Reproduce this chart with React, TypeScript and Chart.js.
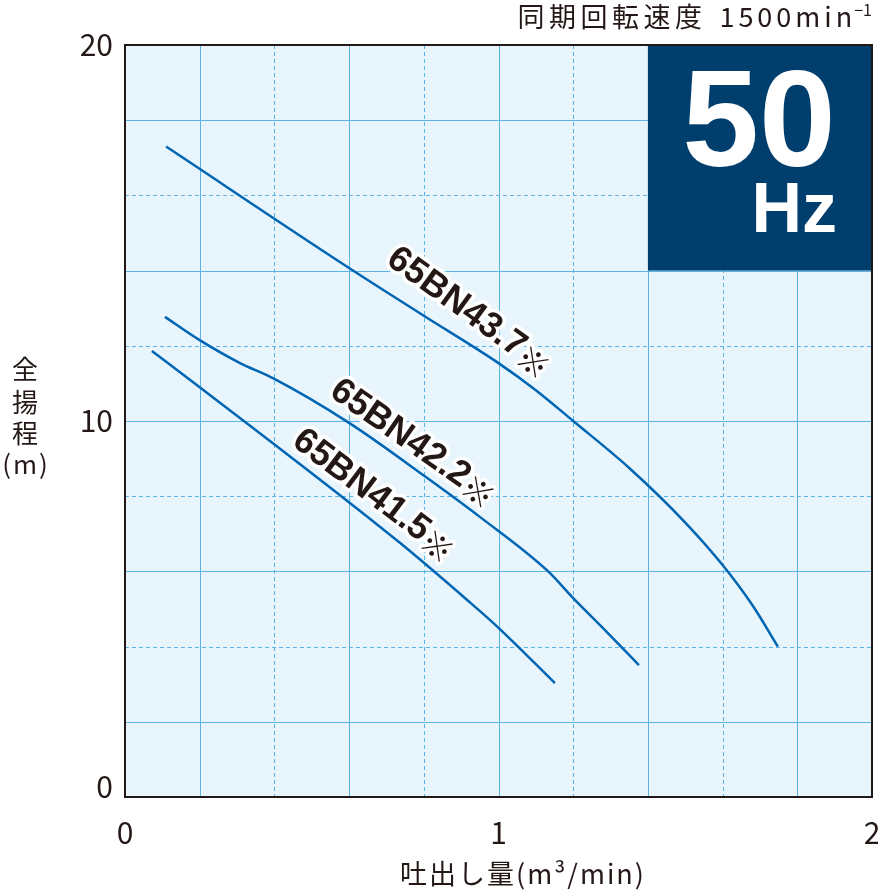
import React, { useEffect, useRef } from 'react';
import { Chart, registerables } from 'chart.js';

Chart.register(...registerables);

// ---- data ----
const flow437 = [0.11, 0.6, 0.8, 1.0, 1.1, 1.2, 1.35, 1.5, 1.6, 1.68, 1.748];
const head437 = [17.3, 14.07, 12.8, 11.54, 10.82, 10.0, 8.75, 7.3, 6.17, 5.1, 4.0];

const flow422 = [0.107, 0.2, 0.308, 0.396, 0.6, 0.8, 0.95, 1.133, 1.2, 1.285, 1.376];
const head422 = [12.77, 12.15, 11.54, 11.14, 9.95, 8.55, 7.45, 6.0, 5.29, 4.44, 3.51];

const flow415 = [0.072, 0.2, 0.396, 0.736, 0.916, 1.0, 1.151];
const head415 = [11.86, 10.9, 9.41, 6.76, 5.24, 4.5, 3.03];

const seriesNames = ['65BN43.7', '65BN42.2', '65BN41.5'];
const labelFlow = [0.922, 0.772, 0.667];
const labelHead = [12.9, 9.42, 8.03];
const labelAngle = [36, 35, 37];

const xTicks = [0, 1, 2];
const yTicks = [0, 10, 20];
const xGridSolid = [0.2, 0.6, 1.0, 1.4, 1.8];
const xGridDashed = [0.4, 0.8, 1.2, 1.6];
const yGridSolid = [2, 6, 10, 14, 18];
const yGridDashed = [4, 8, 12, 16];
const hzBoxFlow = [1.4, 2];
const hzBoxHead = [14, 20];

const titleJP = '同期回転速度';
const titleNum = '1500min';
const titleSup = '−1';
const xTitle = '吐出し量(m³/min)';
const yTitleLines = ['全', '揚', '程', '(m)'];
const hzBig = '50';
const hzSmall = 'Hz';

const LINE = '#0066b3';
const GRID = '#5ab4e6';
const TEXT = '#231815';
const JP = '"Noto Sans CJK JP", "Noto Sans", sans-serif';

const toPts = (xs: number[], ys: number[]) => xs.map((v, i) => ({ x: v, y: ys[i] }));

const decorPlugin = {
  id: 'decor',
  beforeDatasetsDraw(chart: any) {
    const { ctx, chartArea: a, scales } = chart;
    const sx = scales.x, sy = scales.y;
    ctx.save();
    ctx.fillStyle = '#e8f5fd';
    ctx.fillRect(a.left, a.top, a.right - a.left, a.bottom - a.top);
    ctx.strokeStyle = GRID;
    ctx.lineWidth = 1;
    const vline = (v: number, dash: number[]) => {
      const p = Math.round(sx.getPixelForValue(v)) + 0.5;
      ctx.setLineDash(dash);
      ctx.beginPath();
      ctx.moveTo(p, a.top);
      ctx.lineTo(p, a.bottom);
      ctx.stroke();
    };
    const hline = (v: number, dash: number[]) => {
      const p = Math.round(sy.getPixelForValue(v)) + 0.5;
      ctx.setLineDash(dash);
      ctx.beginPath();
      ctx.moveTo(a.left, p);
      ctx.lineTo(a.right, p);
      ctx.stroke();
    };
    xGridSolid.forEach((v) => vline(v, []));
    yGridSolid.forEach((v) => hline(v, []));
    xGridDashed.forEach((v) => vline(v, [4, 3]));
    yGridDashed.forEach((v) => hline(v, [4, 3]));
    ctx.setLineDash([]);
    const bx1 = sx.getPixelForValue(hzBoxFlow[0]);
    const bx2 = sx.getPixelForValue(hzBoxFlow[1]);
    const by1 = sy.getPixelForValue(hzBoxHead[1]);
    const by2 = sy.getPixelForValue(hzBoxHead[0]);
    ctx.fillStyle = '#003e6d';
    ctx.fillRect(bx1, by1, bx2 - bx1, by2 - by1);
    ctx.restore();
  },
  afterDatasetsDraw(chart: any) {
    const { ctx, chartArea: a, scales } = chart;
    const sx = scales.x, sy = scales.y;
    ctx.save();
    seriesNames.forEach((name, i) => {
      const px = sx.getPixelForValue(labelFlow[i]);
      const py = sy.getPixelForValue(labelHead[i]);
      ctx.save();
      ctx.translate(px, py);
      ctx.rotate((labelAngle[i] * Math.PI) / 180);
      const f1 = 'bold 36px "Liberation Sans", Arial, sans-serif';
      const f2 = `normal 32px ${JP}`;
      ctx.font = f1;
      const w1 = ctx.measureText(name).width;
      ctx.font = f2;
      const w2 = ctx.measureText('※').width;
      const x0 = -(w1 + w2) / 2;
      ctx.textBaseline = 'middle';
      ctx.textAlign = 'left';
      ctx.lineJoin = 'round';
      ctx.strokeStyle = '#ffffff';
      ctx.lineWidth = 7;
      ctx.font = f1;
      ctx.strokeText(name, x0, 0);
      ctx.font = f2;
      ctx.strokeText('※', x0 + w1, 3);
      ctx.fillStyle = TEXT;
      ctx.font = f1;
      ctx.fillText(name, x0, 0);
      ctx.font = f2;
      ctx.fillText('※', x0 + w1, 3);
      ctx.restore();
    });
    const bx1 = sx.getPixelForValue(hzBoxFlow[0]);
    const bx2 = sx.getPixelForValue(hzBoxFlow[1]);
    const by1 = sy.getPixelForValue(hzBoxHead[1]);
    ctx.fillStyle = '#ffffff';
    ctx.textBaseline = 'alphabetic';
    ctx.textAlign = 'center';
    ctx.font = 'bold 138px "Liberation Sans", Arial, sans-serif';
    ctx.fillText(hzBig, (bx1 + bx2) / 2 - 1, by1 + 121);
    ctx.textAlign = 'right';
    ctx.font = 'bold 70px "Liberation Sans", Arial, sans-serif';
    ctx.fillText(hzSmall, bx2 - 35, by1 + 187);
    ctx.strokeStyle = TEXT;
    ctx.lineWidth = 2;
    ctx.strokeRect(a.left, a.top, a.right - a.left, a.bottom - a.top);
    ctx.restore();
  },
  afterDraw(chart: any) {
    const { ctx, chartArea: a, scales } = chart;
    const sy = scales.y;
    ctx.save();
    ctx.fillStyle = TEXT;
    // y tick labels
    ctx.font = `normal 30px ${JP}`;
    ctx.textAlign = 'right';
    ctx.textBaseline = 'middle';
    yTicks.forEach((v) => {
      const p = sy.getPixelForValue(v);
      ctx.fillText(String(v), a.left - 12, v === yTicks[0] ? p - 10 : p);
    });
    // top title
    ctx.textBaseline = 'alphabetic';
    ctx.textAlign = 'right';
    ctx.font = `normal 16px ${JP}`;
    const supW = ctx.measureText(titleSup).width;
    ctx.fillText(titleSup, a.right, 16);
    ctx.font = `normal 27px ${JP}`;
    (ctx as any).letterSpacing = '4px';
    const numW = ctx.measureText(titleNum).width;
    ctx.fillText(titleNum, a.right - supW + 2, 27);
    (ctx as any).letterSpacing = '4.5px';
    ctx.fillText(titleJP, a.right - supW - numW - 11, 27);
    // x title
    ctx.textAlign = 'center';
    ctx.textBaseline = 'middle';
    (ctx as any).letterSpacing = '2px';
    ctx.font = `normal 27px ${JP}`;
    ctx.fillText(xTitle, 523, 874);
    // y title
    const ys = [369, 402, 433, 464];
    yTitleLines.forEach((t, i) => {
      ctx.font = `normal 26px ${JP}`;
      (ctx as any).letterSpacing = i === 3 ? '2px' : '0px';
      ctx.fillText(t, i === 3 ? 26 : 25, ys[i]);
    });
    ctx.restore();
  },
};

export default function App() {
  const ref = useRef<HTMLCanvasElement>(null);
  useEffect(() => {
    if (!ref.current) return;
    const mk = (d: { x: number; y: number }[]) => ({
      data: d,
      borderColor: LINE,
      borderWidth: 2.5,
      pointRadius: 0,
      fill: false,
      cubicInterpolationMode: 'monotone' as const,
    });
    const chart = new Chart(ref.current, {
      type: 'line',
      data: {
        datasets: [
          mk(toPts(flow437, head437)),
          mk(toPts(flow422, head422)),
          mk(toPts(flow415, head415)),
        ],
      },
      options: {
        responsive: false,
        animation: false,
        layout: { padding: { left: 0, right: 6, top: 45, bottom: 0 } },
        plugins: { legend: { display: false }, tooltip: { enabled: false } },
        scales: {
          x: {
            type: 'linear',
            min: 0,
            max: 2,
            afterBuildTicks: (s: any) => {
              s.ticks = xTicks.map((v) => ({ value: v }));
            },
            afterFit: (s: any) => {
              s.height = 95;
              s.paddingLeft = 0;
              s.paddingRight = 0;
            },
            grid: { display: false },
            border: { display: false },
            ticks: {
              color: TEXT,
              padding: 10,
              font: { family: JP, size: 30 },
              maxRotation: 0,
              callback: (v: any) => String(v),
            },
          },
          y: {
            type: 'linear',
            min: 0,
            max: 20,
            afterBuildTicks: (s: any) => {
              s.ticks = yTicks.map((v) => ({ value: v }));
            },
            afterFit: (s: any) => {
              s.width = 125;
              s.paddingTop = 0;
              s.paddingBottom = 0;
            },
            grid: { display: false },
            border: { display: false },
            ticks: { display: false },
          },
        },
      },
      plugins: [decorPlugin],
    });
    return () => chart.destroy();
  }, []);
  return (
    <div style={{ position: 'fixed', left: 0, top: 0, width: 878, height: 892, background: '#fff' }}>
      <canvas ref={ref} width={878} height={892} />
    </div>
  );
}
